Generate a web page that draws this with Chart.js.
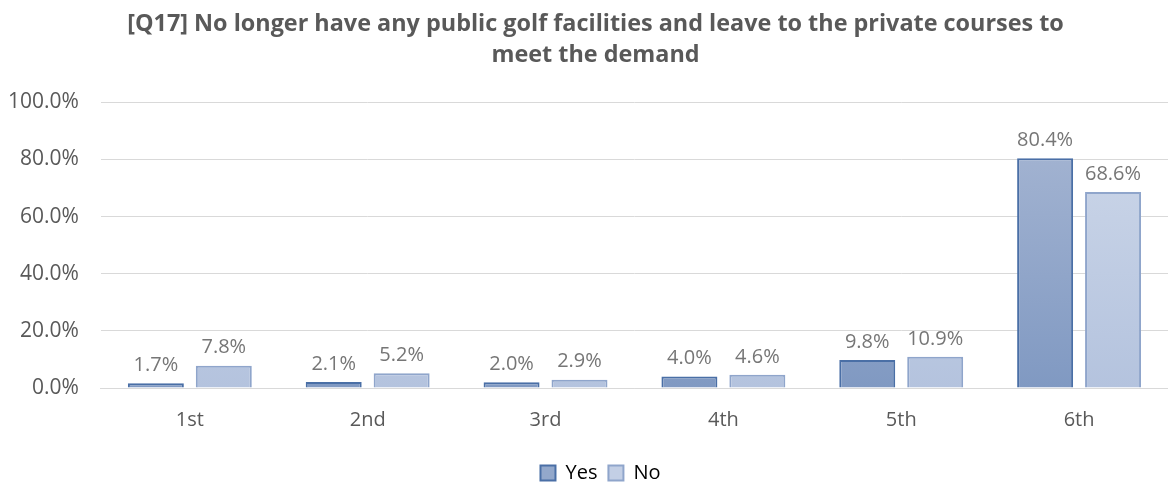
<!DOCTYPE html>
<html><head><meta charset="utf-8">
<script src="https://cdn.jsdelivr.net/npm/chart.js@4/dist/chart.umd.min.js"></script>
<style>html,body{margin:0;padding:0;background:#fff}#wrap{width:1168px;height:483px}</style>
</head><body><div id="wrap"><canvas id="c" width="1168" height="483"></canvas></div>
<script>
const categories = ['1st','2nd','3rd','4th','5th','6th'];
const yesValues = [1.7, 2.1, 2.0, 4.0, 9.8, 80.4];
const noValues = [7.8, 5.2, 2.9, 4.6, 10.9, 68.6];
const seriesNames = ['Yes','No'];
const titleLines = ['[Q17] No longer have any public golf facilities and leave to the private courses to', 'meet the demand'];

const FONT = "'Open Sans', 'Liberation Sans', sans-serif";
const ctx = document.getElementById('c').getContext('2d');

function grad(chart, top, bottom) {
  const {ctx, chartArea} = chart;
  if (!chartArea) return top;
  const g = ctx.createLinearGradient(0, chartArea.top, 0, chartArea.bottom);
  g.addColorStop(0, top); g.addColorStop(1, bottom);
  return g;
}

const labelPlugin = {
  id: 'valLabels',
  afterLayout(chart) {
    // the reference centres title and legend slightly right of the canvas centre
    if (chart.titleBlock) { chart.titleBlock.left += 17; chart.titleBlock.right += 17; }
    if (chart.legend) { chart.legend.left += 22; chart.legend.right += 22; }
  },
  afterDatasetsDraw(chart) {
    const c = chart.ctx;
    c.save();
    c.font = "20px " + FONT;
    c.fillStyle = '#767676';
    c.textAlign = 'center';
    c.textBaseline = 'bottom';
    chart.data.datasets.forEach((ds, i) => {
      chart.getDatasetMeta(i).data.forEach((bar, j) => {
        c.fillText(ds.data[j].toFixed(1) + '%', bar.x, bar.y - 8);
      });
    });
    c.restore();
  }
};

new Chart(ctx, {
  type: 'bar',
  data: {
    labels: categories,
    datasets: [
      { label: seriesNames[0], data: yesValues,
        backgroundColor: (c) => grad(c.chart, '#a9b8d4', '#8099c2'),
        borderColor: '#4a6fa6', borderWidth: 2 },
      { label: seriesNames[1], data: noValues,
        backgroundColor: (c) => grad(c.chart, '#cfd9ea', '#b4c3de'),
        borderColor: '#8fa5cb', borderWidth: 2 }
    ]
  },
  options: {
    responsive: false,
    animation: false,
    devicePixelRatio: 1,
    layout: { padding: { left: -14, right: -3, top: 0, bottom: -10 } },
    datasets: { bar: { categoryPercentage: 0.764, barPercentage: 0.824 } },
    plugins: {
      title: { display: true, text: titleLines, color: '#595959',
        font: { family: FONT, size: 23.4, weight: 'bold', lineHeight: 1.33 },
        padding: { top: 9, bottom: 31 } },
      legend: { display: true, position: 'bottom',
        labels: { color: '#595959', font: { family: FONT, size: 20 }, boxWidth: 15, boxHeight: 15, padding: 11,
          generateLabels(chart) {
            return chart.data.datasets.map((ds, i) => ({
              text: ds.label,
              fillStyle: i === 0 ? '#93a8cb' : '#c3cfe5',
              strokeStyle: ds.borderColor, lineWidth: 2, datasetIndex: i, hidden: false
            }));
          } } },
      tooltip: { enabled: false }
    },
    scales: {
      x: { grid: { display: false, drawTicks: false }, border: { color: '#d9d9d9' },
        ticks: { color: '#595959', font: { family: FONT, size: 20 }, padding: 20 } },
      y: { min: 0, max: 100, grid: { color: '#d9d9d9', drawTicks: false }, border: { display: false },
        ticks: { stepSize: 20, color: '#595959', font: { family: FONT, size: 21 }, padding: 22,
          callback: (v) => v.toFixed(1) + '%' } }
    }
  },
  plugins: [labelPlugin]
});
</script></body></html>
